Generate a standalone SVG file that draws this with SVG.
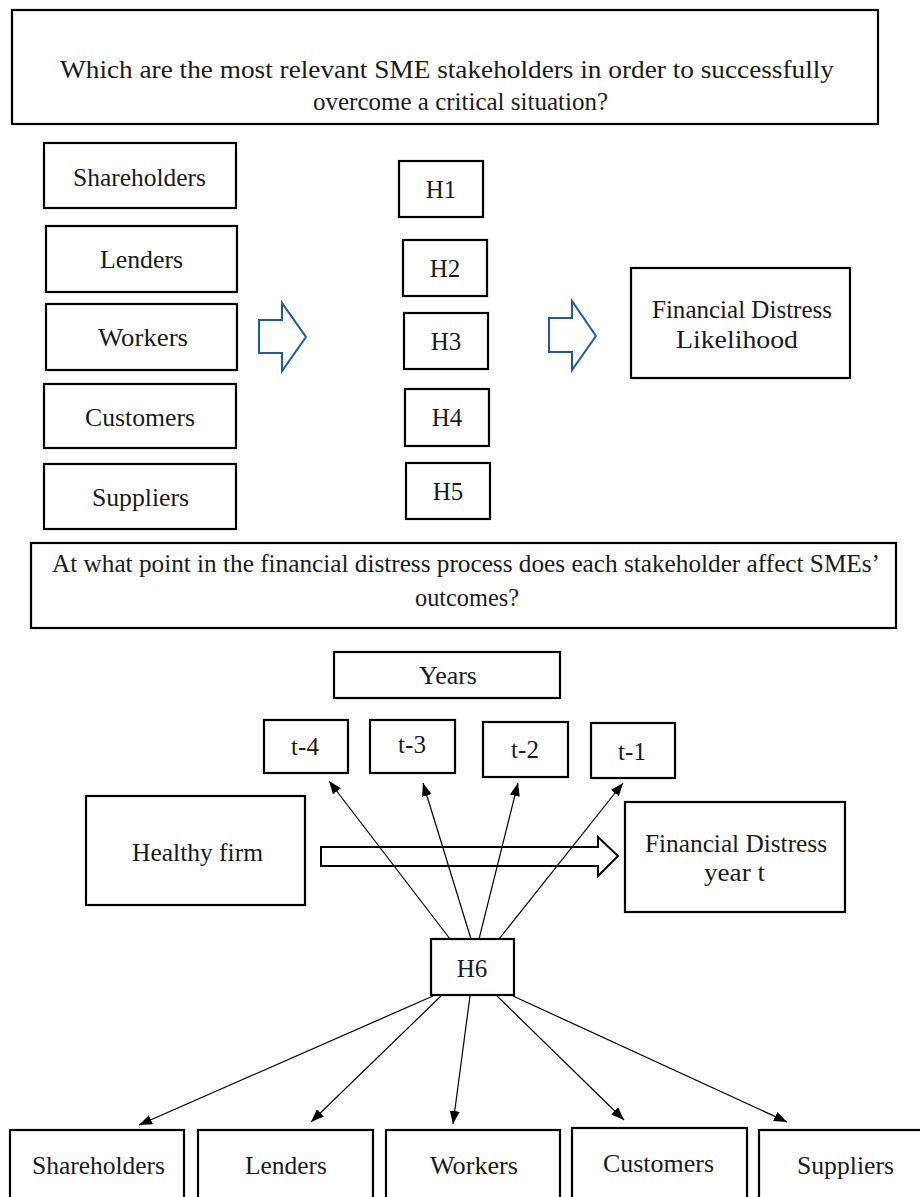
<svg xmlns="http://www.w3.org/2000/svg" width="920" height="1197" viewBox="0 0 920 1197">
<defs>
<style>
.box{fill:#fff;stroke:#000;stroke-width:2.2}
text{font-family:'Liberation Serif','DejaVu Serif',serif;font-size:25px;fill:#1a1a1a}
.t{text-anchor:middle}
.b{font-size:26px}
.blue{fill:#fff;stroke:#1f5a9e;stroke-width:2;stroke-linejoin:miter}
.con{stroke:#000;stroke-width:1.2;fill:none;marker-end:url(#ah)}
</style>
<marker id="ah" markerUnits="userSpaceOnUse" viewBox="0 0 13 10" markerWidth="13" markerHeight="10" refX="13" refY="5" orient="auto">
<path d="M0,0 L13,5 L0,10 z" fill="#000"/>
</marker>
</defs>
<rect width="920" height="1197" fill="#fff"/>

<g id="q1">
<rect class="box" x="12" y="10" width="866" height="114" stroke-width="2.5"/>
<text x="60" y="78" textLength="774" lengthAdjust="spacingAndGlyphs">Which are the most relevant SME stakeholders in order to successfully</text>
<text x="313" y="110" textLength="295" lengthAdjust="spacingAndGlyphs">overcome a critical situation?</text>
</g>

<g id="l-shareholders"><rect class="box" x="44" y="143" width="192" height="65"/><text x="73" y="186" textLength="133" lengthAdjust="spacingAndGlyphs">Shareholders</text></g>
<g id="l-lenders"><rect class="box" x="46" y="226" width="191" height="66"/><text x="100" y="268" textLength="83" lengthAdjust="spacingAndGlyphs">Lenders</text></g>
<g id="l-workers"><rect class="box" x="46" y="304" width="191" height="66"/><text x="98" y="346" textLength="90" lengthAdjust="spacingAndGlyphs">Workers</text></g>
<g id="l-customers"><rect class="box" x="44" y="384" width="192" height="64"/><text x="85" y="426" textLength="110" lengthAdjust="spacingAndGlyphs">Customers</text></g>
<g id="l-suppliers"><rect class="box" x="44" y="464" width="192" height="65"/><text x="92" y="506" textLength="97" lengthAdjust="spacingAndGlyphs">Suppliers</text></g>

<g id="blue-arrow-1"><polygon class="blue" points="259,320 282,320 282,303 306,337 282,371 282,353 259,353"/></g>

<g id="h1"><rect class="box" x="399" y="161" width="84" height="56"/><text class="t" x="441" y="198">H1</text></g>
<g id="h2"><rect class="box" x="403" y="240" width="84" height="56"/><text class="t" x="445" y="277">H2</text></g>
<g id="h3"><rect class="box" x="404" y="313" width="84" height="56"/><text class="t" x="446" y="350">H3</text></g>
<g id="h4"><rect class="box" x="405" y="389" width="84" height="57"/><text class="t" x="447" y="426">H4</text></g>
<g id="h5"><rect class="box" x="406" y="463" width="84" height="56"/><text class="t" x="448" y="500">H5</text></g>

<g id="blue-arrow-2"><polygon class="blue" points="549,318 572,318 572,301 596,336 572,370 572,352 549,352"/></g>

<g id="fdl"><rect class="box" x="631" y="268" width="219" height="110"/>
<text x="652" y="318" textLength="180" lengthAdjust="spacingAndGlyphs">Financial Distress</text>
<text x="676" y="348" textLength="122" lengthAdjust="spacingAndGlyphs">Likelihood</text></g>

<g id="q2">
<rect class="box" x="31" y="543" width="865" height="85" stroke-width="2.5"/>
<text x="52" y="572" textLength="828" lengthAdjust="spacingAndGlyphs">At what point in the financial distress process does each stakeholder affect SMEs’</text>
<text x="415" y="606" textLength="104" lengthAdjust="spacingAndGlyphs">outcomes?</text>
</g>

<g id="years"><rect class="box" x="334" y="652" width="226" height="46"/><text x="419" y="684" textLength="58" lengthAdjust="spacingAndGlyphs">Years</text></g>

<g id="t4"><rect class="box" x="264" y="720" width="84" height="53"/><text class="t" x="305" y="755">t-4</text></g>
<g id="t3"><rect class="box" x="370" y="720" width="85" height="53"/><text class="t" x="412" y="753">t-3</text></g>
<g id="t2"><rect class="box" x="483" y="722" width="85" height="55"/><text class="t" x="525" y="758">t-2</text></g>
<g id="t1"><rect class="box" x="591" y="723" width="84" height="55"/><text class="t" x="632" y="760">t-1</text></g>

<g id="healthy"><rect class="box" x="86" y="796" width="219" height="109"/><text x="132" y="861" textLength="131" lengthAdjust="spacingAndGlyphs">Healthy firm</text></g>

<g id="fdyear"><rect class="box" x="625" y="802" width="220" height="110"/>
<text x="645" y="852" textLength="182" lengthAdjust="spacingAndGlyphs">Financial Distress</text>
<text x="704" y="881" textLength="61" lengthAdjust="spacingAndGlyphs">year t</text></g>

<g id="process-arrow"><polygon points="321,847 598,847 598,837 618,856 598,876 598,866 321,866" fill="#fff" stroke="#000" stroke-width="2"/></g>

<g id="h6"><rect class="box" x="431" y="939" width="83" height="56"/><text class="t" x="472" y="977">H6</text></g>

<g id="b-shareholders"><rect class="box" x="10" y="1130" width="174" height="70"/><text class="b" x="32" y="1174" textLength="133" lengthAdjust="spacingAndGlyphs">Shareholders</text></g>
<g id="b-lenders"><rect class="box" x="198" y="1130" width="175" height="70"/><text class="b" x="245" y="1174" textLength="82" lengthAdjust="spacingAndGlyphs">Lenders</text></g>
<g id="b-workers"><rect class="box" x="386" y="1130" width="174" height="70"/><text class="b" x="430" y="1174" textLength="88" lengthAdjust="spacingAndGlyphs">Workers</text></g>
<g id="b-customers"><rect class="box" x="572" y="1128" width="175" height="72"/><text class="b" x="603" y="1172" textLength="111" lengthAdjust="spacingAndGlyphs">Customers</text></g>
<g id="b-suppliers"><rect class="box" x="759" y="1130" width="165" height="70"/><text class="b" x="797" y="1174" textLength="97" lengthAdjust="spacingAndGlyphs">Suppliers</text></g>

<g id="connectors">
<line class="con" x1="450" y1="939" x2="329" y2="781"/>
<line class="con" x1="471" y1="939" x2="423" y2="783"/>
<line class="con" x1="479" y1="939" x2="518" y2="783"/>
<line class="con" x1="499" y1="939" x2="623" y2="783"/>
<line class="con" x1="433" y1="996" x2="139" y2="1125"/>
<line class="con" x1="441" y1="996" x2="311" y2="1122"/>
<line class="con" x1="470" y1="996" x2="453" y2="1124"/>
<line class="con" x1="497" y1="996" x2="624" y2="1120"/>
<line class="con" x1="513" y1="996" x2="787" y2="1122"/>
</g>
</svg>
